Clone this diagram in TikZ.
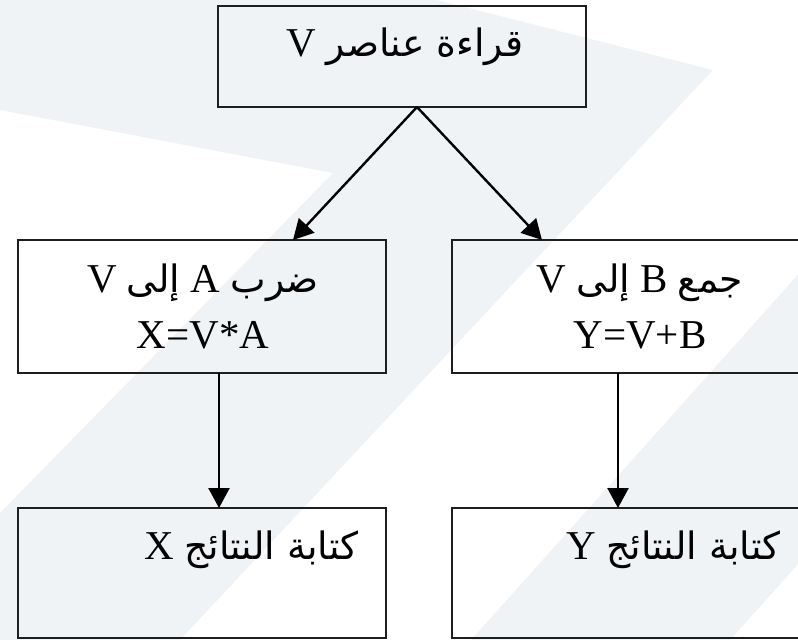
\documentclass[tikz,border=0pt]{standalone}
\usepackage{fontspec}
\setmainfont{Liberation Serif}
\newfontfamily\ar[Script=Arabic,Scale=0.92]{DejaVu Sans}
\TeXXeTstate=1
\usetikzlibrary{arrows.meta}
\definecolor{bgband}{RGB}{240,243,246}
\definecolor{boxline}{RGB}{30,30,30}
\tikzset{
  box/.style={draw=boxline, line width=2.8pt, minimum width=368pt, inner sep=0pt, outer sep=0pt},
  lbl/.style={font=\fontsize{41}{56}\selectfont, align=center, inner sep=0pt},
  conn/.style={draw=black, line width=2.4pt, -{Triangle[length=20pt,width=21pt]}},
}
\begin{document}
\begin{tikzpicture}[x=1pt,y=-1pt]
\useasboundingbox (0,0) rectangle (798,640);
\clip (0,0) rectangle (798,640);
% background watermark bands
\fill[bgband] (0,0) -- (437,0) -- (713,70) -- (180,640) -- (0,640) -- (0,513) -- (333,173) -- (0,110) -- cycle;
\fill[bgband] (820,250) -- (471,640) -- (730,640) -- (820,540) -- cycle;
% boxes
\node[box, minimum height=101pt] (top) at (402,56.5) {};
\node[box, minimum height=133pt] (lmid) at (202,306.5) {};
\node[box, minimum height=133pt] (rmid) at (636,306.5) {};
\node[box, minimum height=130pt] (lbot) at (202,573) {};
\node[box, minimum height=130pt] (rbot) at (636,573) {};
% texts
\node[lbl, anchor=base] (ttop) at (405,56) {\beginR{\ar قراءة عناصر} V\endR};
\node[lbl, anchor=base] (tlmid) at (203,348) {\beginR{\ar ضرب} A {\ar إلى} V\endR\\X=V*A};
\node[lbl, anchor=base] (trmid) at (640,348) {\beginR{\ar جمع} B {\ar إلى} V\endR\\Y=V+B};
\node[lbl, anchor=base east] (tlbot) at (359,559) {\beginR{\ar كتابة النتائج} X\endR};
\node[lbl, anchor=base east] (trbot) at (781,559) {\beginR{\ar كتابة النتائج} Y\endR};
% connectors
\coordinate (split) at ([xshift=15pt]top.south);
\draw[conn] (split) -- ([xshift=91pt]lmid.north);
\draw[conn] (split) -- ([xshift=-94pt]rmid.north);
\draw[conn] ([xshift=17pt]lmid.south) -- ([xshift=17pt]lbot.north);
\draw[conn] ([xshift=-18pt]rmid.south) -- ([xshift=-18pt]rbot.north);
\end{tikzpicture}
\end{document}
